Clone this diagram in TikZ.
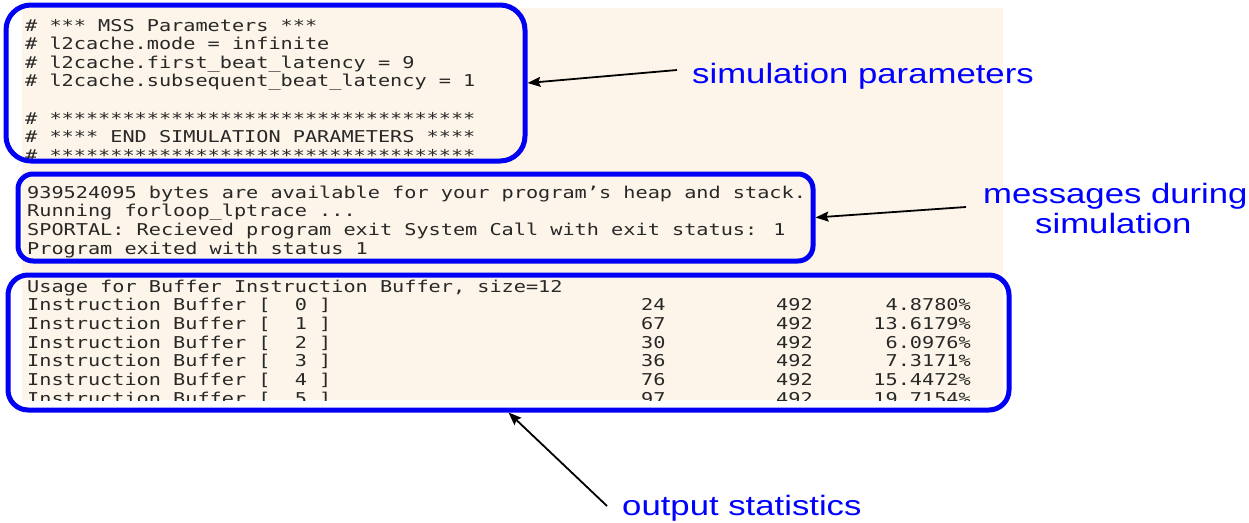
\documentclass[tikz,border=0pt]{standalone}
\usepackage{fontspec}
\usepackage{graphicx}
\setmainfont{Liberation Sans}
\newfontfamily\termfont{DejaVu Sans Mono}
\newfontfamily\labelfont{Liberation Sans}
\usetikzlibrary{arrows.meta}
\definecolor{bgbeige}{RGB}{253,245,233}
\definecolor{boxblue}{RGB}{0,0,245}
\definecolor{labblue}{RGB}{0,0,255}
\definecolor{termtext}{RGB}{40,40,40}
\newcommand{\stretchx}[1]{\scalebox{1.24}[1]{#1}}
\begin{document}
\begin{tikzpicture}[x=1pt,y=-1pt,
  termbox/.style={draw=boxblue, line width=5pt, rounded corners=#1, inner sep=0pt, fill=none},
  termbox/.default=20pt,
  term/.style={font=\termfont\fontsize{16.3}{18.6}\selectfont, text=termtext, inner sep=0pt, anchor=base west},
  termr/.style={term, anchor=base east},
  lab/.style={font=\labelfont\fontsize{28}{30}\selectfont, text=labblue, inner sep=0pt, anchor=base west},
  pointer/.style={draw=black, line width=1.8pt, -{Stealth[length=13pt,width=10pt,inset=2pt]}}]
\useasboundingbox (0,0) rectangle (1249,522);
% screenshot background
\fill[bgbeige] (22,8) rectangle (1003,400);
\begin{scope}
\clip (0,0) rectangle (1249,400);
% simulation parameters
\node[term] (p0) at (25,31.0)  {\stretchx{\# *** MSS Parameters ***}};
\node[term] (p1) at (25,49.6)  {\stretchx{\# l2cache.mode = infinite}};
\node[term] (p2) at (25,68.2)  {\stretchx{\# l2cache.first\_beat\_latency = 9}};
\node[term] (p3) at (25,86.8)  {\stretchx{\# l2cache.subsequent\_beat\_latency = 1}};
\node[term] (p5) at (25,124.0) {\stretchx{\# ***********************************}};
\node[term] (p6) at (25,142.6) {\stretchx{\# **** END SIMULATION PARAMETERS ****}};
\node[term] (p7) at (25,161.2) {\stretchx{\# ***********************************}};
% messages
\node[term] (m0) at (27,198.0) {\stretchx{939524095 bytes are available for your program’s heap and stack.}};
\node[term] (m1) at (27,216.7) {\stretchx{Running forloop\_lptrace ...}};
\node[term] (m2) at (27,235.4) {\stretchx{SPORTAL: Recieved program exit System Call with exit status: 1}};
\node[term] (m3) at (27,254.1) {\stretchx{Program exited with status 1}};
% statistics
\node[term] (u0) at (27,292.0) {\stretchx{Usage for Buffer Instruction Buffer, size=12}};
\foreach \i/\a/\b/\c in {0/24/492/4.8780,1/67/492/13.6179,2/30/492/6.0976,3/36/492/7.3171,4/76/492/15.4472,5/97/492/19.7154}{
  \node[term] (ib\i) at (27,310.7+18.7*\i) {\stretchx{Instruction Buffer [\ \ \i\ ]}};
  \node[term] (cnt\i) at (641,310.7+18.7*\i) {\stretchx{\a}};
  \node[term] (tot\i) at (776,310.7+18.7*\i) {\stretchx{\b}};
  \node[termr] (pct\i) at (971,310.7+18.7*\i) {\stretchx{\c\%}};
}
\end{scope}
% highlight boxes
\node[termbox=25pt, minimum width=519pt, minimum height=156pt] (b1) at (265.5,83) {};
\node[termbox=15pt, minimum width=795pt, minimum height=87pt] (b2) at (415.5,217.5) {};
\node[termbox=20pt, minimum width=1001pt, minimum height=135pt] (b3) at (508.5,342.5) {};
% labels
\node[lab] (l1) at (692,83) {\stretchx{simulation parameters}};
\node[lab] (l2) at (983,203) {\stretchx{messages during}};
\node[lab] (l2b) at (1035,233) {\stretchx{simulation}};
\node[lab] (l3) at (622,515) {\stretchx{output statistics}};
% pointers
\draw[pointer] ([shift={(-15,-13)}]l1.base west) -- (b1.east);
\draw[pointer] ([shift={(-17,4)}]l2.base west) -- (b2.east);
\draw[pointer] ([shift={(-15,-9)}]l3.base west) -- (b3.south);
\end{tikzpicture}
\end{document}
